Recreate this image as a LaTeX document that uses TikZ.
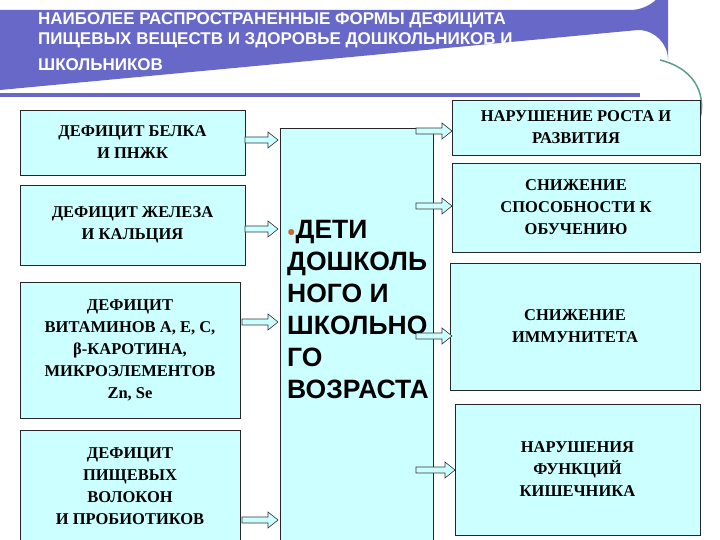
\documentclass[tikz,border=0pt]{standalone}
\usepackage{fontspec}
\setmainfont{Liberation Serif}
\newfontfamily\arial{Liberation Sans}
\definecolor{band}{HTML}{6868C8}
\definecolor{boxc}{HTML}{CCFFFF}
\definecolor{arc}{HTML}{5A9E8A}
\newcommand{\barrow}[3]{\draw[fill=boxc,draw=black!80,line width=0.6pt] (#1,#3-3) -- (#2-10,#3-3) -- (#2-10,#3-8) -- (#2,#3) -- (#2-10,#3+8) -- (#2-10,#3+3) -- (#1,#3+3) -- cycle;}
\begin{document}
\begin{tikzpicture}[x=1pt,y=-1pt,
 bx/.style={draw=black!85,fill=boxc,line width=0.6pt,align=center,font=\bfseries\fontsize{16.5}{22}\selectfont,inner sep=2pt}]
\useasboundingbox (0,0) rectangle (720,540);
\fill[white] (0,0) rectangle (720,540);
\draw[arc,line width=1.5pt] (660,60) .. controls (700,70) and (705,100) .. (700,118);
\fill[band] (0,10) -- (630,10) arc[start angle=90,end angle=0,radius=38] -- (668,60) arc[start angle=0,end angle=-90,radius=30] -- (0,90) -- cycle;
\fill[band] (0,93) rectangle (640,97);
\node[anchor=north west,text=white,font=\arial\bfseries\fontsize{17}{20}\selectfont,align=left,inner sep=0] (t) at (38,12) {НАИБОЛЕЕ РАСПРОСТРАНЕННЫЕ ФОРМЫ ДЕФИЦИТА\\ПИЩЕВЫХ ВЕЩЕСТВ И ЗДОРОВЬЕ ДОШКОЛЬНИКОВ И\\[6pt]ШКОЛЬНИКОВ};
\node[bx,minimum width=225,minimum height=65] (l1) at (132.5,142.5) {ДЕФИЦИТ БЕЛКА\\И ПНЖК};
\node[bx,minimum width=225,minimum height=80] (l2) at (132.5,225) {ДЕФИЦИТ ЖЕЛЕЗА\\И КАЛЬЦИЯ};
\node[bx,minimum width=220,minimum height=136] (l3) at (130,350) {ДЕФИЦИТ\\ВИТАМИНОВ А, Е, С,\\β-КАРОТИНА,\\МИКРОЭЛЕМЕНТОВ\\Zn, Se};
\node[bx,minimum width=220,minimum height=112] (l4) at (130,486) {ДЕФИЦИТ\\ПИЩЕВЫХ\\ВОЛОКОН\\И ПРОБИОТИКОВ};
\node[draw=black!85,fill=boxc,line width=0.6pt,minimum width=153,minimum height=412] (c) at (356.5,334) {};
\node[anchor=north west,align=left,inner sep=0,font=\arial\bfseries\fontsize{26.5}{32}\selectfont] (ct) at (287,220) {\textcolor{brown!80!red}{\raisebox{2pt}{\fontsize{14}{14}\selectfont●}}ДЕТИ\\ДОШКОЛЬ\\НОГО И\\ШКОЛЬНО\\ГО\\ВОЗРАСТА};
\node[bx,minimum width=248,minimum height=55] (r1) at (576,127.5) {НАРУШЕНИЕ РОСТА И\\РАЗВИТИЯ};
\node[bx,minimum width=248,minimum height=89] (r2) at (576,207.5) {СНИЖЕНИЕ\\СПОСОБНОСТИ К\\ОБУЧЕНИЮ};
\node[bx,minimum width=250,minimum height=127] (r3) at (575,326.5) {СНИЖЕНИЕ\\ИММУНИТЕТА};
\node[bx,minimum width=245,minimum height=131] (r4) at (577.5,469.5) {НАРУШЕНИЯ\\ФУНКЦИЙ\\КИШЕЧНИКА};
\barrow{245}{278}{140}
\barrow{245}{278}{229}
\barrow{242}{278}{322}
\barrow{242}{278}{520}
\barrow{416}{452}{131}
\barrow{416}{452}{206}
\barrow{416}{452}{336}
\barrow{416}{455}{470}
\end{tikzpicture}
\end{document}
